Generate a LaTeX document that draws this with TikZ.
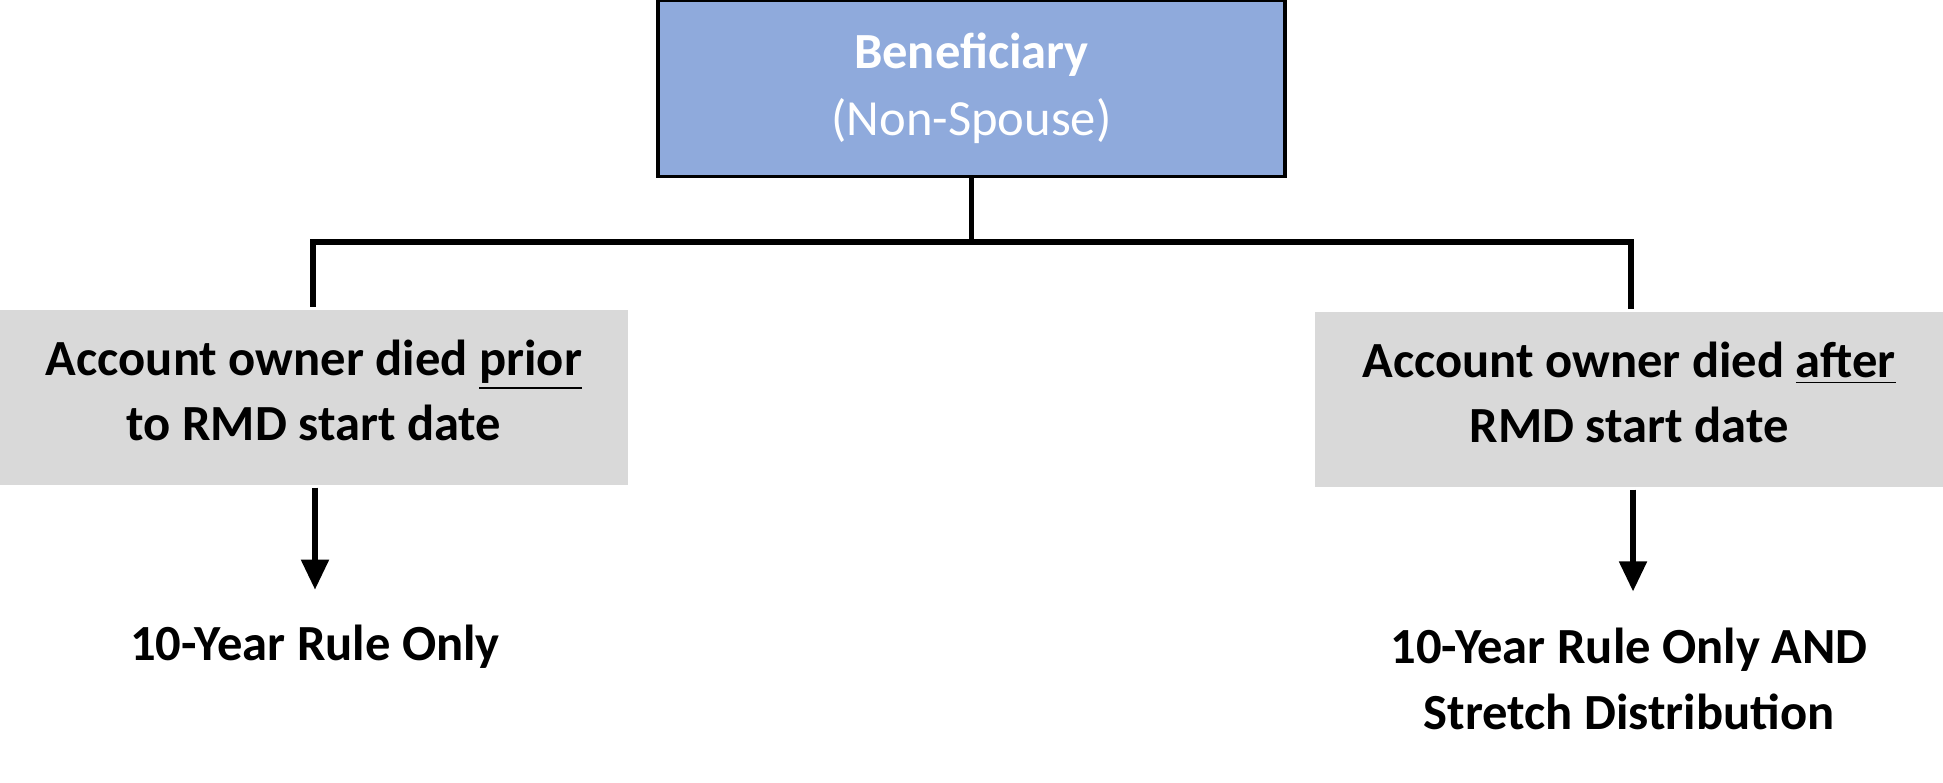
\documentclass[tikz,border=0pt]{standalone}
\usepackage{fontspec}
\setmainfont{Carlito}
\usetikzlibrary{arrows.meta,positioning}
\definecolor{boxblue}{HTML}{8FAADC}
\definecolor{boxgray}{HTML}{D9D9D9}
\tikzset{%
  >={Triangle[width=2.7mm,length=3mm]},
  % Specifications for style of nodes:
         base/.style = {rectangle, align=center, inner sep=0pt,
                        font=\fontsize{14.4}{18.5}\selectfont\bfseries},
  beneficiary/.style = {base, draw=black, line width=1pt, fill=boxblue,
                        text=white, minimum width=6.27cm, minimum height=1.76cm,
                        font=\fontsize{14.4}{19}\selectfont},
         case/.style = {base, fill=boxgray, minimum width=6.28cm,
                        minimum height=1.75cm},
       result/.style = {base, font=\fontsize{14.4}{18.8}\selectfont\bfseries},
}

\begin{document}
\begin{tikzpicture}[line width=1.5pt]
  \useasboundingbox (0,0) rectangle (19.43,-7.82);

  % Specification of nodes (position, etc.)
  \node (benef)   [beneficiary] at (9.715,-0.885)
                  {\textbf{Beneficiary}\\(Non-Spouse)};
  \node (prior)   [case] at (3.14,-3.975)
                  {Account owner died \underline{prior}\\to RMD start date\rule[-0.15cm]{0pt}{0pt}};
  \node (after)   [case] at (16.29,-3.995)
                  {Account owner died \underline{after}\\RMD start date\rule[-0.15cm]{0pt}{0pt}};
  \node (tenOnly) [result] at (3.15,-6.47) {10-Year Rule Only};
  \node (stretch) [result] at (16.29,-6.79)
                  {10-Year Rule Only AND\\Stretch Distribution};
  \coordinate (split) at (benef.south |- 0,-2.42);

  % Specification of lines between nodes specified above
  \draw             (benef.south) -- (split);
  \draw             (split) -| ([xshift=-0.01cm]prior.north);
  \draw             (split) -| ([xshift=0.02cm]after.north);
  \draw[->, shorten >=0.33cm]  ([xshift=0.01cm]prior.south) -- ([xshift=0.01cm]prior.south |- tenOnly.north);
  \draw[->, shorten >=0.34cm]  ([xshift=0.04cm]after.south) -- ([xshift=0.04cm]after.south |- stretch.north);
\end{tikzpicture}
\end{document}
